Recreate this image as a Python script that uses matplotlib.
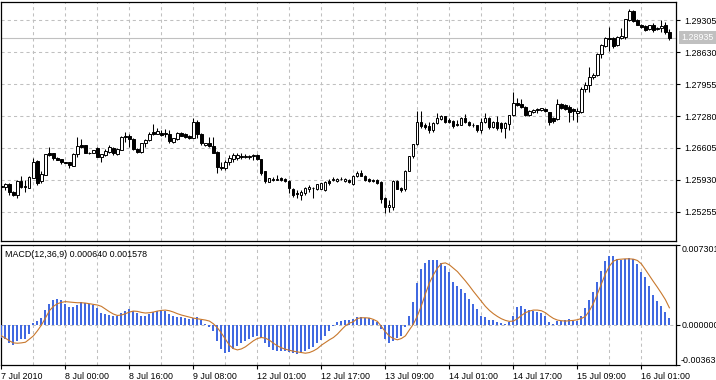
import numpy as np
import matplotlib.pyplot as plt
from matplotlib.transforms import blended_transform_factory

# EURUSD-style H1 bars, 7 Jul 2010 08:00 .. 16 Jul 2010 08:00
opens = [
    1.2581, 1.2578, 1.2585, 1.2567, 1.2561, 1.2590, 1.2581, 1.2577, 1.2598, 1.2633,
    1.2590, 1.2604, 1.2649, 1.2649, 1.2640, 1.2637, 1.2630, 1.2630, 1.2623, 1.2647,
    1.2667, 1.2667, 1.2651, 1.2651, 1.2660, 1.2641, 1.2646, 1.2653, 1.2661, 1.2648,
    1.2656, 1.2686, 1.2686, 1.2679, 1.2658, 1.2653, 1.2670, 1.2677, 1.2695, 1.2690,
    1.2693, 1.2692, 1.2690, 1.2674, 1.2679, 1.2692, 1.2690, 1.2686, 1.2682, 1.2716,
    1.2691, 1.2666, 1.2670, 1.2665, 1.2653, 1.2621, 1.2618, 1.2631, 1.2637, 1.2640,
    1.2644, 1.2642, 1.2642, 1.2643, 1.2646, 1.2637, 1.2611, 1.2589, 1.2596, 1.2594,
    1.2597, 1.2596, 1.2591, 1.2575, 1.2565, 1.2562, 1.2565, 1.2573, 1.2577, 1.2573,
    1.2574, 1.2571, 1.2590, 1.2594, 1.2591, 1.2596, 1.2591, 1.2593, 1.2584, 1.2601,
    1.2607, 1.2602, 1.2595, 1.2593, 1.2593, 1.2588, 1.2555, 1.2536, 1.2537, 1.2590,
    1.2576, 1.2575, 1.2613, 1.2643, 1.2668, 1.2716, 1.2709, 1.2707, 1.2699, 1.2713,
    1.2722, 1.2727, 1.2720, 1.2718, 1.2711, 1.2709, 1.2723, 1.2716, 1.2710, 1.2709,
    1.2699, 1.2715, 1.2723, 1.2704, 1.2716, 1.2713, 1.2703, 1.2712, 1.2730, 1.2755,
    1.2753, 1.2748, 1.2730, 1.2736, 1.2743, 1.2740, 1.2743, 1.2736, 1.2723, 1.2721,
    1.2753, 1.2752, 1.2746, 1.2743, 1.2734, 1.2737, 1.2786, 1.2793, 1.2811, 1.2814,
    1.2858, 1.2876, 1.2893, 1.2892, 1.2878, 1.2893, 1.2895, 1.2930, 1.2950, 1.2931,
    1.2921, 1.2918, 1.2911, 1.2919, 1.2912, 1.2914, 1.2919, 1.2905,
]
highs = [
    1.2586, 1.2586, 1.2586, 1.2570, 1.2592, 1.2602, 1.2593, 1.2602, 1.2640, 1.2635,
    1.2611, 1.2647, 1.2662, 1.2651, 1.2641, 1.2638, 1.2632, 1.2632, 1.2651, 1.2684,
    1.2679, 1.2667, 1.2652, 1.2657, 1.2662, 1.2648, 1.2658, 1.2666, 1.2663, 1.2660,
    1.2686, 1.2695, 1.2691, 1.2681, 1.2660, 1.2670, 1.2679, 1.2695, 1.2711, 1.2702,
    1.2699, 1.2700, 1.2699, 1.2682, 1.2695, 1.2694, 1.2692, 1.2687, 1.2723, 1.2720,
    1.2692, 1.2672, 1.2684, 1.2684, 1.2654, 1.2632, 1.2635, 1.2646, 1.2649, 1.2649,
    1.2649, 1.2647, 1.2646, 1.2648, 1.2648, 1.2638, 1.2612, 1.2598, 1.2600, 1.2604,
    1.2599, 1.2598, 1.2593, 1.2577, 1.2572, 1.2572, 1.2578, 1.2583, 1.2579, 1.2585,
    1.2587, 1.2590, 1.2596, 1.2600, 1.2598, 1.2599, 1.2597, 1.2595, 1.2603, 1.2612,
    1.2614, 1.2604, 1.2597, 1.2596, 1.2595, 1.2590, 1.2558, 1.2551, 1.2593, 1.2592,
    1.2578, 1.2614, 1.2644, 1.2669, 1.2739, 1.2739, 1.2713, 1.2716, 1.2716, 1.2735,
    1.2730, 1.2729, 1.2723, 1.2720, 1.2720, 1.2725, 1.2732, 1.2718, 1.2713, 1.2710,
    1.2723, 1.2734, 1.2725, 1.2718, 1.2727, 1.2716, 1.2716, 1.2731, 1.2778, 1.2767,
    1.2764, 1.2749, 1.2741, 1.2743, 1.2744, 1.2745, 1.2744, 1.2737, 1.2725, 1.2764,
    1.2755, 1.2753, 1.2751, 1.2744, 1.2745, 1.2789, 1.2800, 1.2832, 1.2818, 1.2860,
    1.2880, 1.2895, 1.2916, 1.2895, 1.2897, 1.2913, 1.2933, 1.2954, 1.2952, 1.2933,
    1.2922, 1.2920, 1.2921, 1.2924, 1.2916, 1.2930, 1.2927, 1.2912,
]
lows = [
    1.2574, 1.2572, 1.2561, 1.2559, 1.2554, 1.2577, 1.2567, 1.2577, 1.2597, 1.2582,
    1.2586, 1.2604, 1.2644, 1.2635, 1.2636, 1.2626, 1.2628, 1.2619, 1.2623, 1.2642,
    1.2661, 1.2651, 1.2648, 1.2649, 1.2641, 1.2632, 1.2644, 1.2651, 1.2646, 1.2646,
    1.2656, 1.2674, 1.2663, 1.2656, 1.2649, 1.2651, 1.2663, 1.2676, 1.2688, 1.2689,
    1.2686, 1.2684, 1.2672, 1.2672, 1.2678, 1.2685, 1.2682, 1.2679, 1.2681, 1.2681,
    1.2667, 1.2665, 1.2662, 1.2649, 1.2607, 1.2614, 1.2614, 1.2625, 1.2632, 1.2635,
    1.2637, 1.2639, 1.2638, 1.2636, 1.2635, 1.2604, 1.2586, 1.2588, 1.2590, 1.2592,
    1.2591, 1.2588, 1.2565, 1.2558, 1.2554, 1.2551, 1.2562, 1.2568, 1.2554, 1.2572,
    1.2573, 1.2570, 1.2582, 1.2590, 1.2589, 1.2592, 1.2589, 1.2586, 1.2582, 1.2600,
    1.2601, 1.2591, 1.2589, 1.2588, 1.2584, 1.2545, 1.2523, 1.2526, 1.2530, 1.2574,
    1.2568, 1.2570, 1.2612, 1.2640, 1.2667, 1.2702, 1.2700, 1.2692, 1.2695, 1.2711,
    1.2719, 1.2714, 1.2713, 1.2702, 1.2706, 1.2708, 1.2713, 1.2707, 1.2704, 1.2695,
    1.2692, 1.2713, 1.2700, 1.2702, 1.2698, 1.2695, 1.2681, 1.2698, 1.2727, 1.2750,
    1.2744, 1.2727, 1.2729, 1.2734, 1.2734, 1.2739, 1.2736, 1.2709, 1.2714, 1.2720,
    1.2742, 1.2740, 1.2716, 1.2720, 1.2715, 1.2734, 1.2779, 1.2779, 1.2807, 1.2812,
    1.2851, 1.2873, 1.2866, 1.2871, 1.2876, 1.2890, 1.2890, 1.2928, 1.2926, 1.2919,
    1.2914, 1.2907, 1.2909, 1.2906, 1.2910, 1.2906, 1.2902, 1.2888,
]
closes = [
    1.2579, 1.2585, 1.2567, 1.2561, 1.2590, 1.2579, 1.2579, 1.2600, 1.2630, 1.2586,
    1.2605, 1.2647, 1.2646, 1.2639, 1.2636, 1.2630, 1.2629, 1.2625, 1.2647, 1.2665,
    1.2663, 1.2651, 1.2649, 1.2657, 1.2641, 1.2647, 1.2655, 1.2663, 1.2649, 1.2658,
    1.2684, 1.2683, 1.2679, 1.2658, 1.2652, 1.2670, 1.2677, 1.2690, 1.2690, 1.2697,
    1.2688, 1.2690, 1.2676, 1.2681, 1.2693, 1.2686, 1.2683, 1.2682, 1.2716, 1.2691,
    1.2670, 1.2671, 1.2665, 1.2651, 1.2621, 1.2619, 1.2632, 1.2639, 1.2646, 1.2645,
    1.2641, 1.2643, 1.2643, 1.2645, 1.2637, 1.2607, 1.2590, 1.2597, 1.2594, 1.2596,
    1.2593, 1.2590, 1.2576, 1.2562, 1.2563, 1.2568, 1.2577, 1.2579, 1.2576, 1.2584,
    1.2586, 1.2589, 1.2586, 1.2596, 1.2596, 1.2595, 1.2595, 1.2588, 1.2601, 1.2607,
    1.2602, 1.2593, 1.2591, 1.2591, 1.2586, 1.2553, 1.2537, 1.2540, 1.2590, 1.2575,
    1.2572, 1.2613, 1.2643, 1.2668, 1.2716, 1.2706, 1.2704, 1.2699, 1.2713, 1.2723,
    1.2728, 1.2716, 1.2716, 1.2707, 1.2709, 1.2723, 1.2716, 1.2709, 1.2708, 1.2699,
    1.2716, 1.2723, 1.2704, 1.2716, 1.2702, 1.2703, 1.2714, 1.2730, 1.2755, 1.2751,
    1.2746, 1.2730, 1.2739, 1.2741, 1.2741, 1.2744, 1.2739, 1.2715, 1.2717, 1.2753,
    1.2744, 1.2743, 1.2737, 1.2738, 1.2738, 1.2786, 1.2793, 1.2811, 1.2814, 1.2858,
    1.2878, 1.2892, 1.2890, 1.2876, 1.2895, 1.2897, 1.2932, 1.2950, 1.2928, 1.2921,
    1.2916, 1.2909, 1.2920, 1.2909, 1.2914, 1.2918, 1.2905, 1.28935,
]

# MACD(12,36,9): main line (histogram) and signal line
macd_main = [
    -0.00113, -0.00128, -0.00159, -0.00183, -0.00143, -0.00128, -0.00122, -0.00082, 0.00018, 0.00040,
    0.00064, 0.00137, 0.00192, 0.00229, 0.00238, 0.00229, 0.00192, 0.00162, 0.00168, 0.00183,
    0.00207, 0.00198, 0.00192, 0.00183, 0.00153, 0.00110, 0.00101, 0.00092, 0.00079, 0.00085,
    0.00110, 0.00131, 0.00146, 0.00131, 0.00110, 0.00085, 0.00085, 0.00101, 0.00122, 0.00131,
    0.00140, 0.00131, 0.00101, 0.00085, 0.00076, 0.00070, 0.00061, 0.00055, 0.00064, 0.00070,
    0.00049, 0.00009, -0.00021, -0.00052, -0.00143, -0.00214, -0.00250, -0.00244, -0.00214, -0.00189,
    -0.00165, -0.00143, -0.00128, -0.00104, -0.00098, -0.00113, -0.00159, -0.00195, -0.00229, -0.00235,
    -0.00235, -0.00238, -0.00244, -0.00256, -0.00259, -0.00250, -0.00235, -0.00220, -0.00195, -0.00165,
    -0.00134, -0.00098, -0.00052, -0.00012, 0.00031, 0.00040, 0.00046, 0.00046, 0.00055, 0.00070,
    0.00070, 0.00064, 0.00061, 0.00049, 0.00031, -0.00037, -0.00122, -0.00165, -0.00143, -0.00113,
    -0.00098, -0.00021, 0.00079, 0.00207, 0.00384, 0.00512, 0.00567, 0.00589, 0.00595, 0.00589,
    0.00567, 0.00543, 0.00482, 0.00397, 0.00360, 0.00329, 0.00293, 0.00238, 0.00192, 0.00146,
    0.00079, 0.00070, 0.00049, 0.00046, 0.00024, 0.00018, 0.00009, 0.00024, 0.00079, 0.00162,
    0.00171, 0.00146, 0.00137, 0.00131, 0.00122, 0.00110, 0.00085, 0.00031, 0.00009, 0.00037,
    0.00040, 0.00049, 0.00055, 0.00040, 0.00040, 0.00085, 0.00153, 0.00232, 0.00299, 0.00397,
    0.00497, 0.00583, 0.00628, 0.00628, 0.00604, 0.00589, 0.00598, 0.00610, 0.00604, 0.00558,
    0.00488, 0.00436, 0.00360, 0.00275, 0.00223, 0.00177, 0.00122, 0.00064,
]
macd_signal = [
    -0.00098, -0.00119, -0.00143, -0.00162, -0.00165, -0.00162, -0.00156, -0.00128, -0.00098, -0.00052,
    0.00000, 0.00064, 0.00131, 0.00171, 0.00195, 0.00207, 0.00214, 0.00210, 0.00207, 0.00204,
    0.00204, 0.00201, 0.00195, 0.00189, 0.00183, 0.00171, 0.00146, 0.00122, 0.00101, 0.00088,
    0.00092, 0.00104, 0.00119, 0.00128, 0.00125, 0.00116, 0.00110, 0.00113, 0.00119, 0.00128,
    0.00134, 0.00137, 0.00131, 0.00119, 0.00104, 0.00092, 0.00082, 0.00073, 0.00064, 0.00058,
    0.00052, 0.00046, 0.00037, 0.00012, -0.00024, -0.00073, -0.00128, -0.00183, -0.00214, -0.00226,
    -0.00217, -0.00198, -0.00171, -0.00143, -0.00122, -0.00113, -0.00119, -0.00137, -0.00165, -0.00189,
    -0.00207, -0.00220, -0.00229, -0.00238, -0.00244, -0.00250, -0.00256, -0.00250, -0.00235, -0.00214,
    -0.00183, -0.00159, -0.00134, -0.00113, -0.00082, -0.00043, -0.00006, 0.00018, 0.00031, 0.00061,
    0.00067, 0.00067, 0.00064, 0.00052, 0.00034, -0.00012, -0.00061, -0.00101, -0.00122, -0.00134,
    -0.00122, -0.00098, -0.00043, 0.00009, 0.00085, 0.00177, 0.00284, 0.00384, 0.00458, 0.00519,
    0.00561, 0.00567, 0.00549, 0.00519, 0.00488, 0.00445, 0.00403, 0.00357, 0.00308, 0.00262,
    0.00217, 0.00171, 0.00134, 0.00104, 0.00079, 0.00058, 0.00043, 0.00034, 0.00037, 0.00058,
    0.00088, 0.00113, 0.00128, 0.00137, 0.00137, 0.00131, 0.00113, 0.00085, 0.00061, 0.00046,
    0.00040, 0.00037, 0.00040, 0.00043, 0.00049, 0.00061, 0.00079, 0.00131, 0.00198, 0.00284,
    0.00375, 0.00467, 0.00537, 0.00583, 0.00598, 0.00601, 0.00604, 0.00604, 0.00601, 0.00589,
    0.00558, 0.00506, 0.00451, 0.00397, 0.00345, 0.00290, 0.00232, 0.001578,
]

price_ticks = [1.29305, 1.28630, 1.27955, 1.27280, 1.26605, 1.25930, 1.25255]
time_labels = ['7 Jul 2010', '8 Jul 00:00', '8 Jul 16:00', '9 Jul 08:00', '12 Jul 01:00',
               '12 Jul 17:00', '13 Jul 09:00', '14 Jul 01:00', '14 Jul 17:00',
               '15 Jul 09:00', '16 Jul 01:00']
last_price = 1.28935
macd_max = 0.007301
macd_min = -0.003635

plt.rcParams['font.family'] = ['Liberation Sans', 'DejaVu Sans']
plt.rcParams['font.size'] = 6.4

W, H = 716, 380
fig = plt.figure(figsize=(W / 100, H / 100), dpi=100)


def px_box(l, t, r, b):
    return [l / W, 1 - b / H, (r - l) / W, (b - t) / H]


ax = fig.add_axes(px_box(1, 2, 676, 241))
ax2 = fig.add_axes(px_box(1, 245, 676, 365))

n = len(closes)
x = np.arange(n)
o = np.array(opens)
c = np.array(closes)
grid_kw = dict(color='#c0c0c0', lw=0.75, ls=(0, (3, 3)), zorder=0)

for a in (ax, ax2):
    a.set_xlim(-0.1, 168.65)
    for i in range(8, n, 8):
        a.axvline(i, **grid_kw)
    for s in a.spines.values():
        s.set_color('black')
        s.set_linewidth(0.9)

# price panel
for p in price_ticks:
    ax.axhline(p, **grid_kw)
ax.axhline(last_price, color='#c0c0c0', lw=0.8, zorder=1)
ax.vlines(x, lows, highs, color='black', lw=0.75, zorder=3)
up = c >= o
ax.bar(x, np.maximum(np.abs(c - o), 0.00002), 0.55, bottom=np.minimum(o, c),
       color=['white' if u else 'black' for u in up], edgecolor='black',
       linewidth=0.7, zorder=4)
ax.set_ylim(1.24643, 1.29685)
ax.yaxis.tick_right()
ax.set_yticks(price_ticks)
ax.set_yticklabels(['%.5f' % p for p in price_ticks])
ax.tick_params(axis='y', direction='out', length=3, width=0.8, pad=3)
ax.set_xticks([])

tr = blended_transform_factory(ax.transAxes, ax.transData)
ax.text(1 + 5 / 675, last_price, '%.5f' % last_price, transform=tr, ha='left',
        va='center', color='white', clip_on=False,
        bbox=dict(boxstyle='square,pad=0.25', fc='#c0c0c0', ec='none'))

# MACD panel
ax2.axhline(0, **grid_kw)
ax2.bar(x, macd_main, 0.5, color='#4169e1', zorder=3)
ax2.plot(x, macd_signal, color='#c8782d', lw=0.8, zorder=4)
ax2.set_ylim(macd_min, macd_max)
ax2.yaxis.tick_right()
ax2.set_yticks([macd_max, 0, macd_min])
ax2.set_yticklabels([])
ax2.tick_params(axis='y', direction='out', length=3, width=0.8)
tr2 = blended_transform_factory(ax2.transAxes, ax2.transData)
ax2.text(1 + 6 / 675, macd_max, '%.6f' % macd_max, transform=tr2, ha='left', va='top', clip_on=False)
ax2.text(1 + 6 / 675, 0, '0.000000', transform=tr2, ha='left', va='center', clip_on=False)
ax2.text(1 + 5 / 675, macd_min, '%.6f' % macd_min, transform=tr2, ha='left', va='bottom', clip_on=False)
ax2.text(0.006, 0.92, 'MACD(12,36,9) %.6f %.6f' % (macd_main[-1], macd_signal[-1]),
         transform=ax2.transAxes, ha='left', va='center')

ax2.set_xticks(np.arange(0, n, 16))
ax2.set_xticklabels(time_labels, ha='left')
ax2.tick_params(axis='x', direction='out', length=3, width=0.8, pad=2)

fig.savefig('out.png', dpi=100)
